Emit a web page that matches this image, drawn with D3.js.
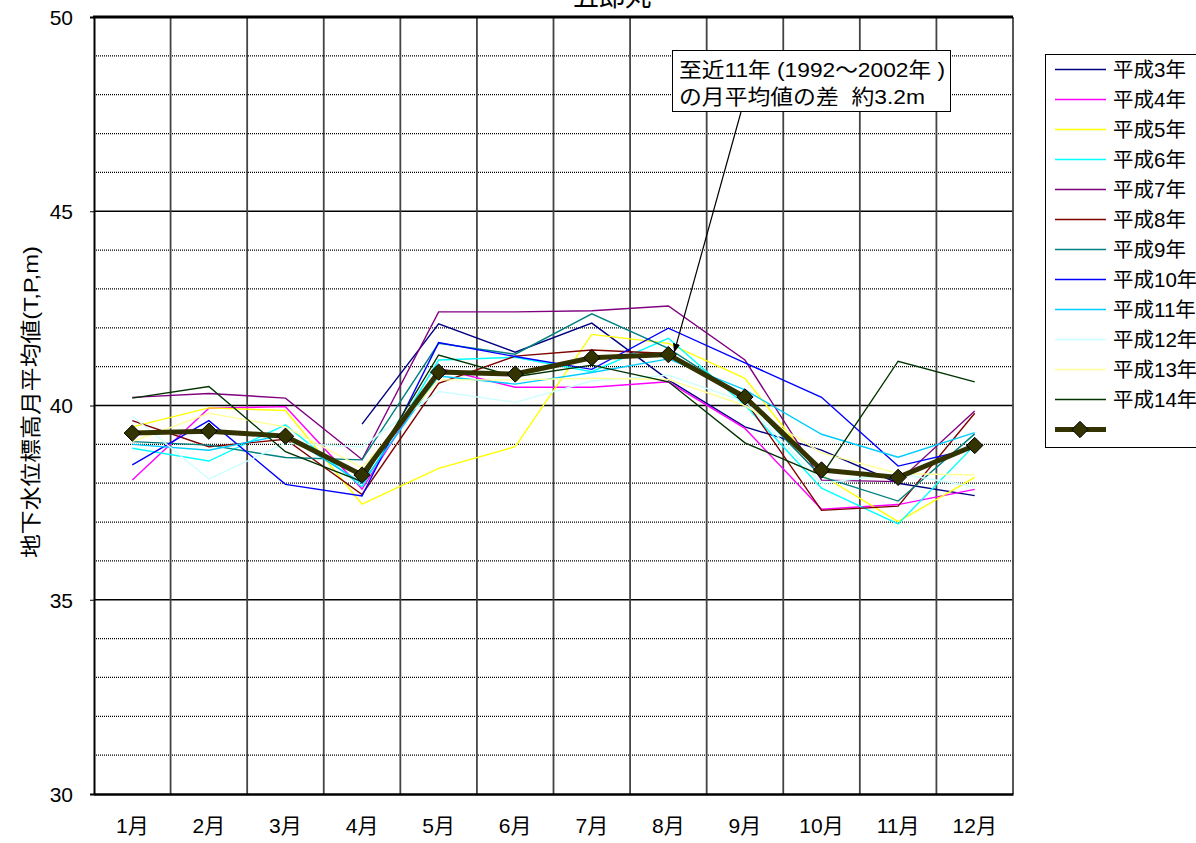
<!DOCTYPE html>
<html><head><meta charset="utf-8">
<script src="https://cdn.jsdelivr.net/npm/d3@7"></script>
<style>
html,body{margin:0;padding:0;background:#fff;}
text{font-family:"Liberation Sans",Arial,"Noto Sans CJK JP",sans-serif;fill:#000;white-space:pre;}
</style></head>
<body>
<svg id="chart" width="1196" height="843"></svg>
<script>
const months = ["1月","2月","3月","4月","5月","6月","7月","8月","9月","10月","11月","12月"];
const seriesNames = ["平成3年","平成4年","平成5年","平成6年","平成7年","平成8年","平成9年","平成10年","平成11年","平成12年","平成13年","平成14年"];
const seriesColors = ["#000080","#FF00FF","#FFFF00","#00FFFF","#800080","#800000","#008080","#0000FF","#00CCFF","#CCFFFF","#FFFF99","#003300"];
const h03 = [null,null,null,39.52,42.10,41.37,42.12,40.66,39.45,38.85,38.00,37.68];
const h04 = [38.08,39.93,39.97,37.85,40.96,40.47,40.47,40.61,39.41,37.33,37.45,37.84];
const h05 = [39.45,39.94,39.87,37.46,38.38,38.94,41.83,41.60,40.70,38.21,37.01,38.15];
const h06 = [38.90,38.57,39.50,37.91,41.17,41.24,40.87,41.73,40.01,37.87,36.95,38.98];
const h07 = [40.21,40.31,40.19,38.61,42.41,42.41,42.44,42.56,41.17,38.08,38.04,39.86];
const h08 = [39.61,38.94,39.13,37.71,40.57,41.27,41.43,41.34,40.14,37.30,37.41,39.80];
const h09 = [39.07,38.98,38.66,38.60,41.60,41.32,42.36,41.47,40.20,38.17,37.54,39.27];
const h10 = [38.47,39.61,37.97,37.67,41.62,41.26,40.93,41.99,41.10,40.21,38.44,38.90];
const h11 = [39.00,38.85,39.25,38.00,40.76,40.55,40.85,41.20,40.40,39.26,38.67,39.30];
const h12 = [39.73,38.11,39.03,38.94,40.36,40.08,40.63,40.78,40.10,38.00,38.25,37.91];
const h13 = [39.07,39.80,39.45,38.40,40.66,40.66,40.70,40.67,40.00,38.78,38.25,38.21];
const h14 = [40.19,40.49,38.81,38.04,41.30,40.74,41.04,40.61,39.04,38.20,41.14,40.61];
const average = [39.29,39.34,39.21,38.21,40.86,40.81,41.23,41.31,40.22,38.34,38.15,38.97];
const yTicks = [30,35,40,45,50];
const titleText = "五郎丸";
const yTitle = "地下水位標高月平均値(T,P,m)";
const noteLines = ["至近11年 (1992～2002年 )","の月平均値の差  約3.2m"];

const allSeries = [h03,h04,h05,h06,h07,h08,h09,h10,h11,h12,h13,h14];

const svg = d3.select("#chart");
const L = 94, R = 1013, T = 17, B = 794;
const x = d3.scaleBand().domain(months).range([L, R]).padding(0);
const y = d3.scaleLinear().domain([30, 50]).range([B, T]);
const cx = m => x(m) + x.bandwidth() / 2;

// title (cut at top edge as in the reference)
svg.append("text").attr("x", 612).attr("y", 6).attr("text-anchor", "middle")
  .style("font-size", "26px").text(titleText);

// horizontal grid
const minor = d3.range(31, 50).filter(v => v % 5 !== 0);
svg.append("g").selectAll("line").data(minor).join("line")
  .attr("x1", L).attr("x2", R).attr("y1", d => y(d)).attr("y2", d => y(d))
  .attr("stroke", "#000").attr("stroke-width", 1.3).attr("stroke-dasharray", "1 1");
svg.append("g").selectAll("line").data([35, 40, 45]).join("line")
  .attr("x1", L).attr("x2", R).attr("y1", d => y(d)).attr("y2", d => y(d))
  .attr("stroke", "#000").attr("stroke-width", 1.5);

// vertical grid
svg.append("g").selectAll("line").data(months.slice(1)).join("line")
  .attr("x1", d => x(d)).attr("x2", d => x(d)).attr("y1", T).attr("y2", B)
  .attr("stroke", "#444").attr("stroke-width", 1.8);
svg.append("line").attr("x1", R).attr("x2", R).attr("y1", T).attr("y2", B)
  .attr("stroke", "#444").attr("stroke-width", 1.8);

// axes
const yAxis = d3.axisLeft(y).tickValues(yTicks).tickSize(4).tickPadding(17);
const gy = svg.append("g").attr("transform", `translate(${L},0)`).call(yAxis);
gy.select(".domain").attr("stroke", "#000").attr("stroke-width", 2);
gy.selectAll(".tick line").attr("stroke", "#000");
gy.selectAll(".tick text").style("font-size", "21px").attr("dy", "0.35em").attr("fill", "#000");

const xAxis = d3.axisBottom(x).tickSize(0).tickPadding(24);
const gx = svg.append("g").attr("transform", `translate(0,${B})`).call(xAxis);
gx.select(".domain").attr("stroke", "#000").attr("stroke-width", 2.5);
gx.selectAll(".tick text").style("font-size", "21px").attr("fill", "#000");

// top border
svg.append("line").attr("x1", L - 1).attr("x2", R).attr("y1", T).attr("y2", T)
  .attr("stroke", "#000").attr("stroke-width", 3);

// y title
svg.append("text").attr("transform", "translate(38,402) rotate(-90)")
  .attr("text-anchor", "middle").style("font-size", "21px")
  .attr("textLength", 312).attr("lengthAdjust", "spacingAndGlyphs").text(yTitle);

// lines
const line = d3.line().defined(d => d.v != null).x(d => cx(d.m)).y(d => y(d.v));
const lg = svg.append("g");
allSeries.forEach((s, i) => {
  lg.append("path").datum(s.map((v, j) => ({ m: months[j], v })))
    .attr("fill", "none").attr("stroke", seriesColors[i]).attr("stroke-width", 1.4)
    .attr("d", line);
});
const avgData = average.map((v, j) => ({ m: months[j], v }));
lg.append("path").datum(avgData).attr("fill", "none").attr("stroke", "#333300")
  .attr("stroke-width", 5).attr("stroke-linejoin", "round").attr("d", line);
const diamond = d3.symbol().type(d3.symbolDiamond2).size(170);
lg.selectAll(".mk").data(avgData).join("path").attr("class", "mk")
  .attr("transform", d => `translate(${cx(d.m)},${y(d.v)})`)
  .attr("d", diamond).attr("fill", "#333300").attr("stroke", "#000").attr("stroke-width", 1);

// annotation
svg.append("defs").append("marker").attr("id", "arr").attr("viewBox", "0 0 10 10")
  .attr("refX", 9).attr("refY", 5).attr("markerWidth", 9).attr("markerHeight", 9)
  .attr("orient", "auto").attr("markerUnits", "userSpaceOnUse")
  .append("path").attr("d", "M0,1 L10,5 L0,9 Z").attr("fill", "#000");
svg.append("line").attr("x1", 741).attr("y1", 112).attr("x2", cx("8月") + 6).attr("y2", y(average[7]) - 3)
  .attr("stroke", "#000").attr("stroke-width", 1.2).attr("marker-end", "url(#arr)");
svg.append("rect").attr("x", 672.5).attr("y", 50.5).attr("width", 278).attr("height", 61)
  .attr("fill", "#fff").attr("stroke", "#000").attr("stroke-width", 1);
noteLines.forEach((t, i) => {
  svg.append("text").attr("x", 679).attr("y", 77 + i * 27).style("font-size", "21px")
    .attr("textLength", i === 0 ? 266 : 246).attr("lengthAdjust", "spacingAndGlyphs").text(t);
});

// legend
const lgX = 1045, lgY = 54;
svg.append("rect").attr("x", lgX + 0.5).attr("y", lgY + 0.5).attr("width", 180).attr("height", 393)
  .attr("fill", "#fff").attr("stroke", "#000").attr("stroke-width", 1);
const leg = svg.append("g");
seriesNames.forEach((n, i) => {
  const yy = 69.5 + i * 30;
  leg.append("line").attr("x1", 1055).attr("x2", 1106).attr("y1", yy).attr("y2", yy)
    .attr("stroke", seriesColors[i]).attr("stroke-width", 1.4);
  leg.append("text").attr("x", 1113).attr("y", yy + 7.5).style("font-size", "20.5px").text(n);
});
const ay = 69.5 + 12 * 30;
leg.append("line").attr("x1", 1055).attr("x2", 1106).attr("y1", ay).attr("y2", ay)
  .attr("stroke", "#333300").attr("stroke-width", 5);
leg.append("path").attr("transform", `translate(1080,${ay})`).attr("d", diamond)
  .attr("fill", "#333300").attr("stroke", "#000").attr("stroke-width", 1);
</script>
</body></html>
